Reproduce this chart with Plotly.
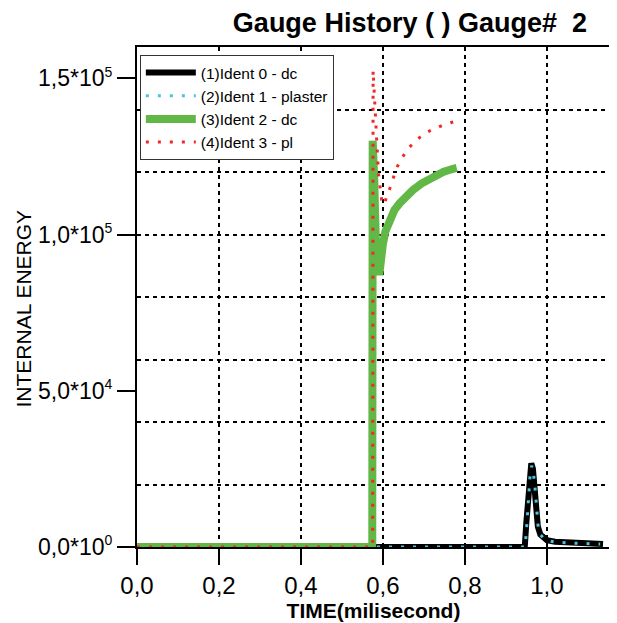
import plotly.graph_objects as go

# ---------------- data ----------------
black_x = [0.0, 0.58, 0.946, 0.950, 0.954, 0.958, 0.962, 0.966, 0.970, 0.974, 0.978,
           0.984, 0.992, 1.000, 1.020, 1.050, 1.080, 1.110, 1.137]
black_y = [0, 0, 0, 8000, 17000, 24000, 26800, 25000, 20000, 12000, 6500,
           4000, 2800, 2200, 1700, 1400, 1200, 1100, 1000]

blue_x = [0.0, 0.58, 0.947, 0.951, 0.955, 0.959, 0.963, 0.967, 0.971, 0.975, 0.979,
          0.985, 0.993, 1.000, 1.020, 1.050, 1.080, 1.110, 1.130]
blue_y = [0, 0, 0, 7000, 16000, 23000, 26000, 24000, 19000, 11000, 6000,
          3800, 2700, 2100, 1600, 1300, 1100, 1000, 950]

green_x = [0.0, 0.574, 0.575, 0.577, 0.579, 0.581, 0.583, 0.585, 0.588, 0.591, 0.594,
           0.597, 0.600, 0.606, 0.615, 0.628, 0.641, 0.657, 0.673, 0.694, 0.715,
           0.731, 0.747, 0.765, 0.780]
green_y = [0, 0, 130000, 126000, 117000, 106000, 96000, 88000, 93000, 87000, 94000,
           90000, 97000, 101000, 104500, 107800, 110000, 112300, 114200, 116300, 118000,
           119100, 120000, 120800, 121300]

red_x = [0.0, 0.575, 0.576, 0.580, 0.585, 0.589, 0.597, 0.603, 0.609, 0.617, 0.633,
         0.646, 0.662, 0.682, 0.702, 0.727, 0.751, 0.780]
red_y = [0, 0, 152600, 140900, 130200, 119600, 111000, 109500, 112100, 114800, 121200,
         124400, 127600, 130200, 132400, 134000, 135300, 136300]

series_names = ["(1)Ident 0 - dc", "(2)Ident 1 - plaster", "(3)Ident 2 - dc", "(4)Ident 3 - pl"]

x_tickvals = [0.0, 0.2, 0.4, 0.6, 0.8, 1.0]
x_ticktext = ["0,0", "0,2", "0,4", "0,6", "0,8", "1,0"]
y_tickvals = [0, 50000, 100000, 150000]
y_mantissa = ["0,0", "5,0", "1,0", "1,5"]
y_exponent = ["0", "4", "5", "5"]
y_gridvals = [20000, 40000, 60000, 80000, 100000, 120000, 140000]

y_ticktext = [f"{m}*10<sup><span style='font-size:14px'>{e}</span></sup>"
              for m, e in zip(y_mantissa, y_exponent)]

FONT = "Liberation Sans, Arial, sans-serif"

fig = go.Figure()
fig.add_trace(go.Scatter(x=black_x, y=black_y, mode="lines", name=series_names[0],
                         line=dict(color="black", width=6)))
fig.add_trace(go.Scatter(x=blue_x, y=blue_y, mode="lines", name=series_names[1],
                         line=dict(color="#4cc3dc", width=3, dash="3px,9px")))
fig.add_trace(go.Scatter(x=green_x, y=green_y, mode="lines", name=series_names[2],
                         line=dict(color="#62b846", width=8)))
fig.add_trace(go.Scatter(x=red_x, y=red_y, mode="lines", name=series_names[3],
                         line=dict(color="#f0282a", width=3, dash="3px,9px")))
# helper trace so the labelled overlay y axis is drawn
fig.add_trace(go.Scatter(x=[None], y=[None], yaxis="y2", showlegend=False, hoverinfo="skip"))

fig.update_layout(
    width=609, height=615,
    margin=dict(l=129, r=7, t=39, b=76),
    paper_bgcolor="white", plot_bgcolor="white",
    font=dict(family=FONT, color="black"),
    title=dict(text="<b>Gauge History ( ) Gauge#  2</b>", x=0.577, xref="paper",
               xanchor="center", y=0.976, yanchor="middle",
               font=dict(size=27, family=FONT, color="black")),
    showlegend=True,
    legend=dict(x=0.006, y=0.984, xanchor="left", yanchor="top",
                bgcolor="white", bordercolor="#333", borderwidth=1,
                font=dict(size=15.5, family=FONT, color="black"),
                itemwidth=50, traceorder="normal"),
    xaxis=dict(range=[0, 1.154], tickvals=x_tickvals, ticktext=x_ticktext,
               ticks="outside", ticklen=16, tickwidth=2, tickcolor="black",
               showline=True, linewidth=2, linecolor="black", mirror=True,
               showgrid=True, gridcolor="black", gridwidth=1.5, griddash="4px,4px",
               zeroline=False, tickfont=dict(size=24), automargin=False,
               title=dict(text="<b>TIME(milisecond)</b>", font=dict(size=21), standoff=0)),
    yaxis=dict(range=[0, 160000], tickvals=y_gridvals, showticklabels=False, ticks="",
               showline=True, linewidth=2, linecolor="black", mirror=True,
               showgrid=True, gridcolor="black", gridwidth=1.5, griddash="4px,4px",
               zeroline=False, automargin=False),
    yaxis2=dict(range=[0, 160000], overlaying="y", side="left", anchor="x",
                tickvals=y_tickvals, ticktext=y_ticktext,
                ticks="outside", ticklen=19, tickwidth=2, tickcolor="black",
                showgrid=False, zeroline=False, showline=False, automargin=False,
                tickfont=dict(size=23)),
    annotations=[dict(text="INTERNAL ENERGY", textangle=-90, xref="paper", yref="paper",
                      x=-0.24, y=0.478, xanchor="center", yanchor="middle",
                      showarrow=False, font=dict(size=21, family=FONT, color="black"))],
)

fig.write_html("out.html")
